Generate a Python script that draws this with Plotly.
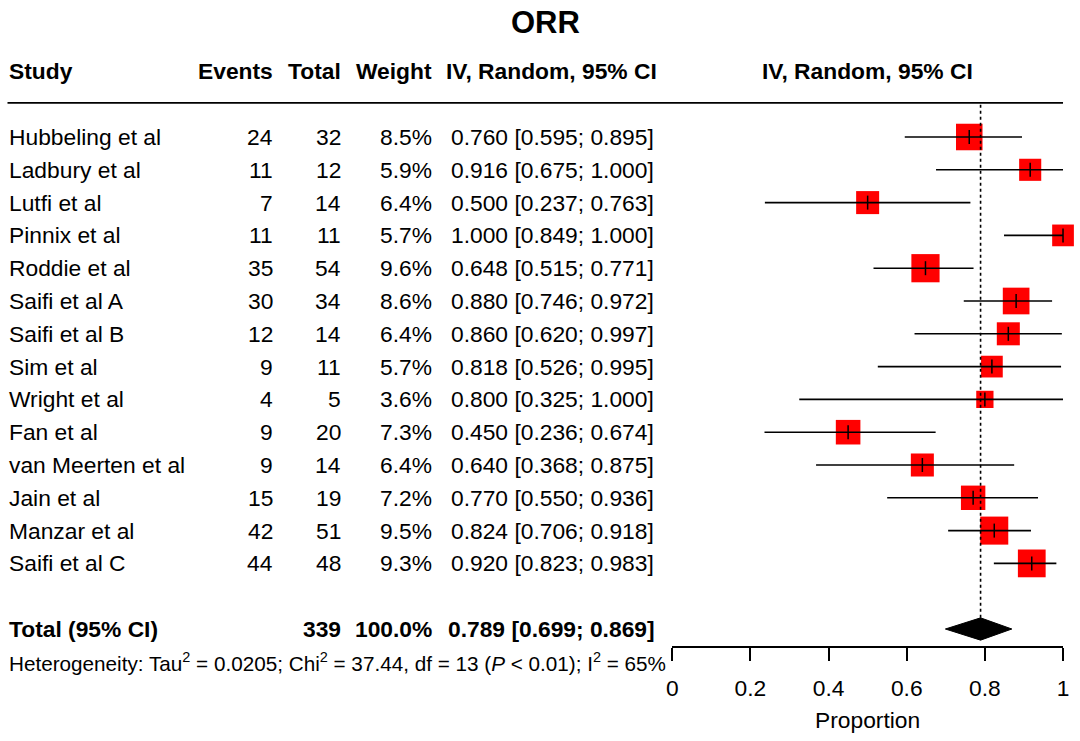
import plotly.graph_objects as go

# study data
studies = ['Hubbeling et al', 'Ladbury et al', 'Lutfi et al', 'Pinnix et al',
           'Roddie et al', 'Saifi et al A', 'Saifi et al B', 'Sim et al',
           'Wright et al', 'Fan et al', 'van Meerten et al', 'Jain et al',
           'Manzar et al', 'Saifi et al C']
events = [24, 11, 7, 11, 35, 30, 12, 9, 4, 9, 9, 15, 42, 44]
totals = [32, 12, 14, 11, 54, 34, 14, 11, 5, 20, 14, 19, 51, 48]
weights = [8.5, 5.9, 6.4, 5.7, 9.6, 8.6, 6.4, 5.7, 3.6, 7.3, 6.4, 7.2, 9.5, 9.3]
est = [0.760, 0.916, 0.500, 1.000, 0.648, 0.880, 0.860, 0.818, 0.800, 0.450,
       0.640, 0.770, 0.824, 0.920]
lower = [0.595, 0.675, 0.237, 0.849, 0.515, 0.746, 0.620, 0.526, 0.325, 0.236,
         0.368, 0.550, 0.706, 0.823]
upper = [0.895, 1.000, 0.763, 1.000, 0.771, 0.972, 0.997, 0.995, 1.000, 0.674,
         0.875, 0.936, 0.918, 0.983]

total_n = 339
total_w = 100.0
pooled = 0.789
pooled_lo = 0.699
pooled_hi = 0.869

tick_vals = [0, 0.2, 0.4, 0.6, 0.8, 1]
tick_text = ['0', '0.2', '0.4', '0.6', '0.8', '1']

het_text = ('Heterogeneity: Tau<sup>2</sup> = 0.0205; Chi<sup>2</sup> = 37.44, '
            'df = 13 (<i>P</i> < 0.01); I<sup>2</sup> = 65%')

W, H = 1080, 741
FONT = 'Liberation Sans, Arial, Helvetica, sans-serif'
FS = 22.8
ROW_H = 32.8
ROW0 = 137
rows = list(range(len(studies)))
total_row = 15
het_row = 16
header_row = -2


def px(x):
    # target screen x -> paper fraction (the shot comes out slightly narrowed)
    return ((x - 7) / 0.987) / W


fig = go.Figure()

# squares (side ~ sqrt(weight))
fig.add_trace(go.Scatter(
    x=est, y=rows, mode='markers',
    marker=dict(symbol='square', color='#ff0000', opacity=1,
                size=[9.1 * w ** 0.5 for w in weights], line=dict(width=0)),
    cliponaxis=False, hoverinfo='skip', showlegend=False))

# CI lines + small tick at estimate
fig.add_trace(go.Scatter(
    x=est, y=rows, mode='markers',
    marker=dict(symbol='line-ns', size=10, color='black',
                line=dict(width=1.5, color='black')),
    error_x=dict(type='data', symmetric=False,
                 array=[u - e for u, e in zip(upper, est)],
                 arrayminus=[e - l for e, l in zip(est, lower)],
                 width=0, thickness=1.6, color='black'),
    cliponaxis=False, hoverinfo='skip', showlegend=False))

# pooled diamond
dh = 0.34
fig.add_trace(go.Scatter(
    x=[pooled_lo, pooled, pooled_hi, pooled, pooled_lo],
    y=[total_row, total_row - dh, total_row, total_row + dh, total_row],
    mode='lines', fill='toself', fillcolor='black',
    line=dict(color='black', width=1), cliponaxis=False,
    hoverinfo='skip', showlegend=False))

# dotted line at pooled estimate
fig.add_shape(type='line', xref='x', yref='y', x0=pooled, x1=pooled,
              y0=-0.98, y1=total_row - dh,
              line=dict(color='black', width=1.6, dash='dot'))

# header rule
fig.add_shape(type='line', xref='paper', yref='y', x0=px(8.5), x1=px(1062),
              y0=-1.04, y1=-1.04, line=dict(color='black', width=1.8))

ann = []


def txt(x, y, s, anchor, size=FS, bold=False):
    ann.append(dict(x=px(x), y=y, xref='paper', yref='y',
                    text=f'<b>{s}</b>' if bold else s,
                    xanchor=anchor, yanchor='middle', showarrow=False,
                    borderpad=0,
                    font=dict(size=size, color='black', family=FONT)))


# title and headers
txt(545, -3.5, 'ORR', 'center', size=31, bold=True)
txt(9, header_row, 'Study', 'left', bold=True)
txt(274, header_row, 'Events', 'right', bold=True)
txt(342, header_row, 'Total', 'right', bold=True)
txt(433, header_row, 'Weight', 'right', bold=True)
txt(445, header_row, 'IV, Random, 95% CI', 'left', bold=True)
txt(867, header_row, 'IV, Random, 95% CI', 'center', bold=True)

for i, s in enumerate(studies):
    txt(9, i, s, 'left')
    txt(274, i, str(events[i]), 'right')
    txt(342, i, str(totals[i]), 'right')
    txt(433, i, f'{weights[i]:.1f}%', 'right')
    txt(450, i, f'{est[i]:.3f} [{lower[i]:.3f}; {upper[i]:.3f}]', 'left')

txt(9, total_row, 'Total (95% CI)', 'left', bold=True)
txt(342, total_row, str(total_n), 'right', bold=True)
txt(433, total_row, f'{total_w:.1f}%', 'right', bold=True)
txt(447, total_row, f'{pooled:.3f} [{pooled_lo:.3f}; {pooled_hi:.3f}]', 'left', bold=True)
txt(9, het_row, het_text, 'left', size=20.7)
txt(867, (720 - ROW0) / ROW_H, 'Proportion', 'center')

y_top = -ROW0 / ROW_H
y_bot = (H - ROW0) / ROW_H

fig.update_layout(
    width=W, height=H,
    margin=dict(l=0, r=0, t=0, b=0),
    paper_bgcolor='white', plot_bgcolor='white',
    annotations=ann,
    xaxis=dict(domain=[px(672), px(1062)], range=[0, 1], anchor='free',
               position=1 - 647 / H, showgrid=False, zeroline=False,
               showline=True, linecolor='black', linewidth=1.6,
               ticks='outside', ticklen=13, tickwidth=1.6, tickcolor='black',
               ticklabelstandoff=8,
               tickvals=tick_vals, ticktext=tick_text,
               tickfont=dict(size=FS, color='black', family=FONT)),
    yaxis=dict(domain=[0, 1], range=[y_bot, y_top], visible=False),
)

# drop the default page margin so the figure sits at the window corner
fig.write_html('out.html', config={'displayModeBar': False},
               post_script="document.body.style.margin='0';"
                           "document.body.style.overflow='hidden';")
